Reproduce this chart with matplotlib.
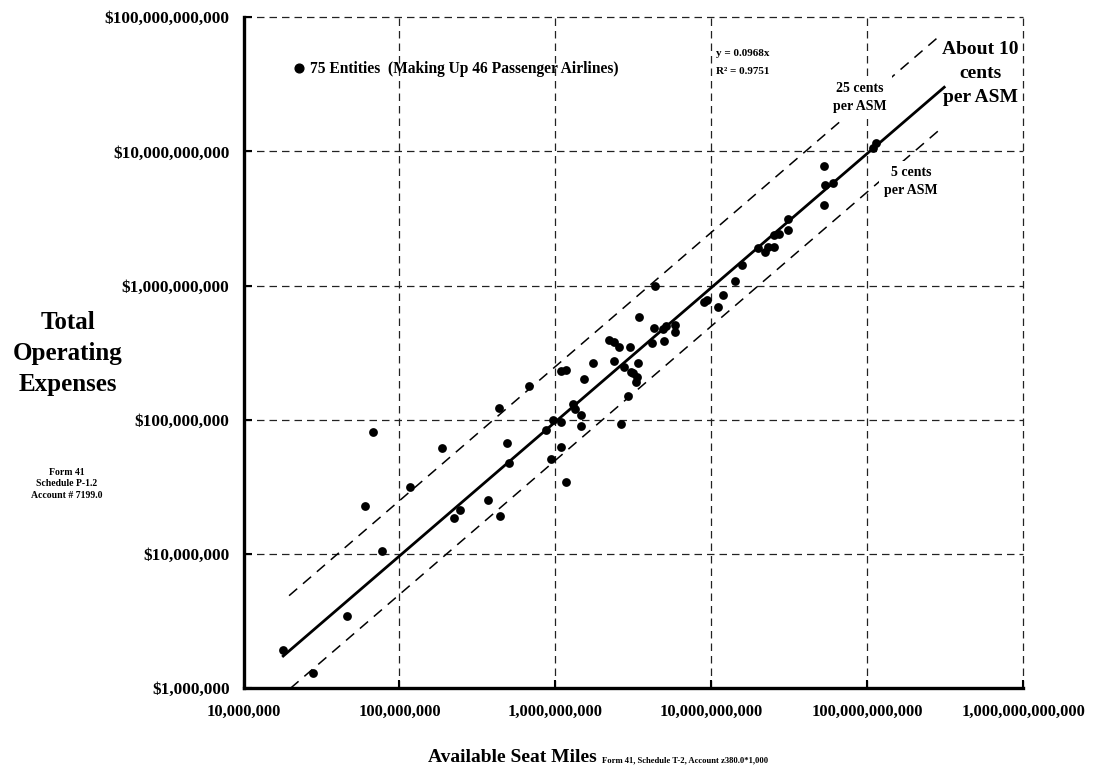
import matplotlib
matplotlib.use("Agg")
import matplotlib.pyplot as plt
from matplotlib.lines import Line2D
import numpy as np

# ---- data ----
asm = [1.78e7, 2.80e7, 4.63e7, 5.99e7, 6.74e7, 7.70e7, 1.17e8, 1.88e8, 2.25e8, 2.46e8,
       3.70e8, 4.44e8, 4.37e8, 4.90e8, 5.02e8, 6.75e8, 8.76e8, 9.43e8, 9.71e8, 1.08e9,
       1.09e9, 1.08e9, 1.17e9, 1.17e9, 1.29e9, 1.34e9, 1.45e9, 1.46e9, 1.53e9, 1.75e9,
       2.21e9, 2.38e9, 2.37e9, 2.57e9, 2.64e9, 2.77e9, 2.90e9, 3.01e9, 3.05e9, 3.16e9,
       3.33e9, 3.31e9, 3.38e9, 3.41e9, 4.17e9, 4.28e9, 4.36e9, 4.86e9, 4.96e9, 5.11e9,
       5.83e9, 5.83e9, 8.95e9, 9.36e9, 1.10e10, 1.18e10, 1.41e10, 1.58e10, 1.99e10, 2.22e10,
       2.30e10, 2.53e10, 2.53e10, 2.71e10, 3.08e10, 3.08e10, 5.24e10, 5.32e10, 6.02e10, 5.24e10,
       1.09e11, 1.14e11]
opex = [1.93e6, 1.31e6, 3.46e6, 2.28e7, 8.17e7, 1.06e7, 3.18e7, 6.21e7, 1.87e7, 2.12e7,
        2.52e7, 1.93e7, 1.23e8, 6.69e7, 4.77e7, 1.79e8, 8.41e7, 5.14e7, 9.98e7, 6.31e7,
        9.65e7, 2.30e8, 2.34e8, 3.45e7, 1.31e8, 1.21e8, 1.08e8, 9.05e7, 2.02e8, 2.64e8,
        3.94e8, 3.79e8, 2.76e8, 3.48e8, 9.32e7, 2.48e8, 1.50e8, 3.48e8, 2.29e8, 2.25e8,
        2.08e8, 1.91e8, 2.67e8, 5.81e8, 3.74e8, 4.82e8, 9.90e8, 4.73e8, 3.87e8, 5.03e8,
        5.10e8, 4.50e8, 7.60e8, 7.78e8, 6.90e8, 8.48e8, 1.08e9, 1.42e9, 1.92e9, 1.77e9,
        1.93e9, 1.93e9, 2.40e9, 2.43e9, 2.59e9, 3.16e9, 7.80e9, 5.60e9, 5.85e9, 3.97e9,
        1.06e10, 1.16e10]

fit_slope = 0.0968
fit_x = [1.77e7, 3.16e11]
high_rate = 0.25
high_x = [1.96e7, 3.02e11]
low_rate = 0.05
low_x = [2.0e7, 2.98e11]

x_ticks = [1e7, 1e8, 1e9, 1e10, 1e11, 1e12]
x_tick_labels = ["10,000,000", "100,000,000", "1,000,000,000", "10,000,000,000",
                 "100,000,000,000", "1,000,000,000,000"]
y_ticks = [1e6, 1e7, 1e8, 1e9, 1e10, 1e11]
y_tick_labels = ["$1,000,000", "$10,000,000", "$100,000,000", "$1,000,000,000",
                 "$10,000,000,000", "$100,000,000,000"]

plt.rcParams['font.family'] = ['Liberation Serif', 'DejaVu Serif']
plt.rcParams['font.weight'] = 'bold'

W, H = 1094, 769
fig = plt.figure(figsize=(W / 100, H / 100), dpi=100)
ax = fig.add_axes([243.5 / W, 1 - 688.3 / H, (1023.3 - 243.5) / W, (688.3 - 17.3) / H])
ax.set_xscale('log')
ax.set_yscale('log')
ax.set_xlim(1e7, 1e12)
ax.set_ylim(1e6, 1e11)

ax.set_xticks(x_ticks)
ax.set_xticklabels(x_tick_labels, fontsize=12, fontweight='bold')
ax.set_yticks(y_ticks)
ax.set_yticklabels(y_tick_labels, fontsize=12.4, fontweight='bold')
ax.minorticks_off()
ax.tick_params(axis='both', direction='in', length=6, width=1.5, color='black')
ax.tick_params(axis='x', pad=11)
ax.tick_params(axis='y', pad=10)

ax.grid(True, which='major', linestyle=(0, (6, 4)), color='#222222', linewidth=0.9)
ax.set_axisbelow(True)
for gl in ax.get_xgridlines() + ax.get_ygridlines():
    gl.set_clip_on(False)
for s in ['top', 'right']:
    ax.spines[s].set_visible(False)
for s in ['left', 'bottom']:
    ax.spines[s].set_linewidth(2.4)

# reference lines
fx = np.array(fit_x)
ax.plot(fx, fit_slope * fx, color='black', lw=2.0, zorder=3, solid_capstyle='butt')
hx = np.array(high_x)
ax.plot(hx, high_rate * hx, color='black', lw=1.1, ls=(0, (7, 5)), zorder=2)
lx = np.array(low_x)
ax.plot(lx, low_rate * lx, color='black', lw=1.1, ls=(0, (7, 5)), zorder=2)

# data points
ax.scatter(asm, opex, s=40, color='black', zorder=5, linewidths=0)

# legend
h = Line2D([], [], marker='o', ls='', color='black', markersize=6.3)
fig.legend(handles=[h], labels=["75 Entities  (Making Up 46 Passenger Airlines)"],
           loc='center left', bbox_to_anchor=(293 / W, 1 - 69 / H),
           frameon=False, handletextpad=0.3, handlelength=0.8, borderpad=0,
           borderaxespad=0, prop={'family': 'Liberation Serif', 'weight': 'bold', 'size': 11.2})

def ft(px, py, s, **kw):
    fig.text(px / W, 1 - py / H, s, fontweight='bold', **kw)

# equation
ft(716, 53, "y = 0.0968x", fontsize=8, ha='left', va='center')
ft(716, 71, "R\u00b2 = 0.9751", fontsize=8, ha='left', va='center')

# annotations
ft(980.5, 73.3, "About 10\ncents\nper ASM", fontsize=14, ha='center', va='center',
   linespacing=1.55, zorder=6)
ft(860, 97.5, "25 cents\nper ASM", fontsize=10, ha='center', va='center', linespacing=1.5,
   bbox=dict(facecolor='white', edgecolor='none', pad=4), zorder=6)
ft(911.3, 181.7, "5 cents\nper ASM", fontsize=10, ha='center', va='center', linespacing=1.5,
   bbox=dict(facecolor='white', edgecolor='none', pad=4), zorder=6)

# axis titles
ft(68, 353.3, "Total\nOperating\nExpenses", fontsize=18, ha='center', va='center',
   linespacing=1.44)
ft(67, 484, "Form 41\nSchedule P-1.2\nAccount # 7199.0", fontsize=7, ha='center',
   va='center', linespacing=1.42)
ft(597, 762, "Available Seat Miles", fontsize=14, ha='right', va='baseline')
ft(602, 762, "Form 41, Schedule T-2, Account z380.0*1,000", fontsize=6.2, ha='left',
   va='baseline')

fig.savefig("out.png", dpi=100)
